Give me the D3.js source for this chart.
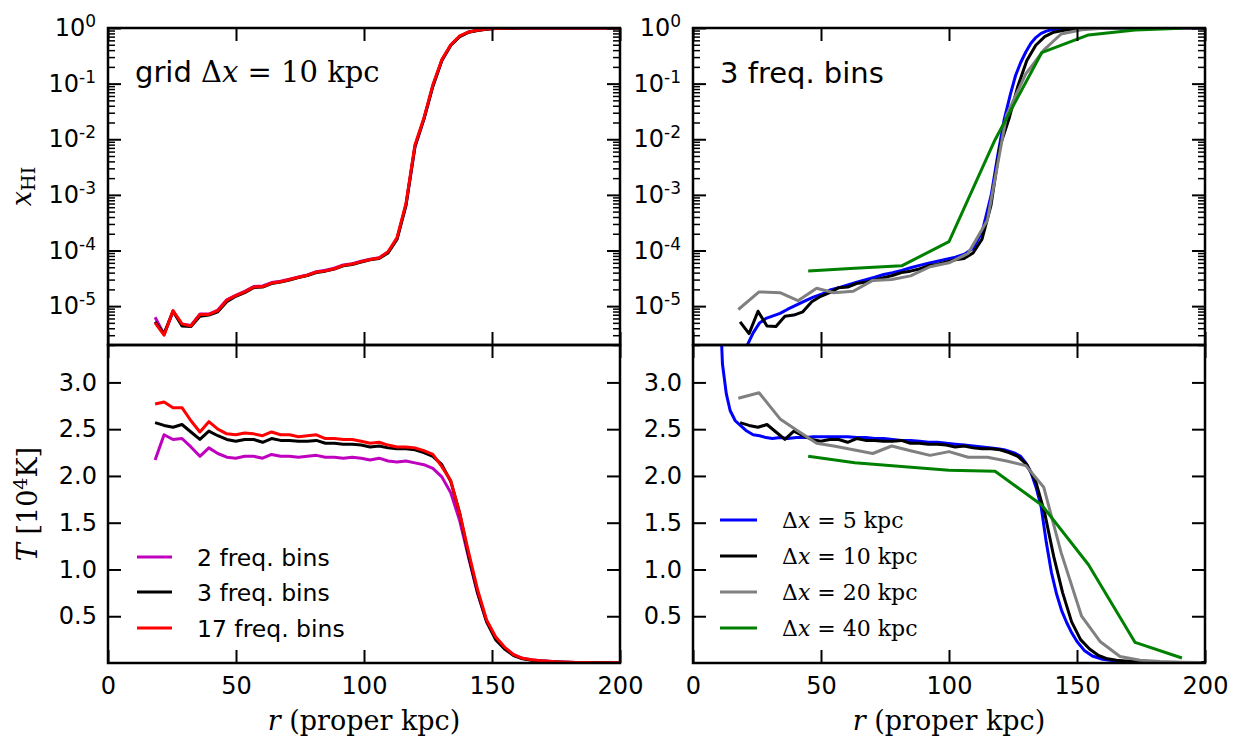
<!DOCTYPE html>
<html><head><meta charset="utf-8">
<script src="https://cdn.jsdelivr.net/npm/d3@7"></script>
<style>body{margin:0;background:#fff} svg{display:block}</style>
</head><body><svg id="c" width="1237" height="739"></svg>
<script>
// ---------- DATA ----------
const rGrid = [18.4, 21.9, 25.4, 28.9, 32.4, 35.9, 39.4, 42.9, 46.4, 49.9, 53.4, 56.9, 60.4, 63.9, 67.4, 70.9, 74.4, 77.9, 81.4, 84.9, 88.4, 91.9, 95.4, 98.9, 102.4, 105.9, 109.4, 112.9, 116.4, 119.9, 123.4, 126.9, 130.4, 133.9, 137.4, 140.9, 144.4, 147.9, 151.4, 154.9, 158.4, 161.9, 165.4, 168.9, 172.4, 175.9, 179.4, 182.9, 186.4, 189.9, 193.4, 196.9, 200.4];

const xhiBins2 = [6.3e-6, 3.1e-6, 8.0e-6, 4.7e-6, 4.5e-6, 7.2e-6, 7.2e-6, 8.5e-6, 1.3e-5, 1.56e-5, 1.85e-5, 2.25e-5, 2.3e-5, 2.65e-5, 2.8e-5, 3.05e-5, 3.35e-5, 3.65e-5, 4.15e-5, 4.4e-5, 4.8e-5, 5.5e-5, 5.8e-5, 6.4e-5, 7.0e-5, 7.4e-5, 9.4e-5, 1.6e-4, 6.6e-4, 7.2e-3, 2.3e-2, 9.0e-2, 0.26, 0.49, 0.71, 0.845, 0.91, 0.955, 0.978, 0.99, 0.995, 0.998, 0.999, 1, 1, 1, 1, 1, 1, 1, 1, 1, 1];
const xhiBins3 = [5.2e-6, 3.2e-6, 8.1e-6, 4.4e-6, 4.3e-6, 6.6e-6, 6.9e-6, 7.9e-6, 1.2e-5, 1.5e-5, 1.75e-5, 2.15e-5, 2.2e-5, 2.55e-5, 2.7e-5, 2.95e-5, 3.25e-5, 3.55e-5, 4.0e-5, 4.25e-5, 4.65e-5, 5.3e-5, 5.6e-5, 6.2e-5, 6.8e-5, 7.2e-5, 9.0e-5, 1.6e-4, 6.5e-4, 7.5e-3, 2.3e-2, 9.0e-2, 0.26, 0.49, 0.70, 0.84, 0.905, 0.95, 0.975, 0.988, 0.994, 0.997, 0.999, 1, 1, 1, 1, 1, 1, 1, 1, 1, 1];
const xhiBins17 = [5.0e-6, 3.0e-6, 8.3e-6, 4.8e-6, 4.4e-6, 7.1e-6, 7.1e-6, 8.3e-6, 1.28e-5, 1.54e-5, 1.8e-5, 2.2e-5, 2.25e-5, 2.6e-5, 2.75e-5, 3.0e-5, 3.3e-5, 3.6e-5, 4.1e-5, 4.3e-5, 4.7e-5, 5.4e-5, 5.7e-5, 6.3e-5, 6.9e-5, 7.3e-5, 9.5e-5, 1.7e-4, 7.0e-4, 7.9e-3, 2.4e-2, 9.5e-2, 0.27, 0.50, 0.72, 0.85, 0.91, 0.955, 0.978, 0.99, 0.995, 0.998, 0.999, 1, 1, 1, 1, 1, 1, 1, 1, 1, 1];

const tBins2 = [2.17, 2.44, 2.39, 2.40, 2.31, 2.21, 2.30, 2.24, 2.20, 2.19, 2.21, 2.21, 2.19, 2.23, 2.21, 2.21, 2.20, 2.21, 2.22, 2.20, 2.20, 2.19, 2.20, 2.19, 2.17, 2.19, 2.16, 2.15, 2.16, 2.14, 2.12, 2.08, 1.99, 1.82, 1.52, 1.12, 0.74, 0.44, 0.27, 0.16, 0.09, 0.05, 0.035, 0.025, 0.018, 0.012, 0.008, 0.006, 0.005, 0.004, 0.003, 0.003, 0.003];
const tBins3 = [2.57, 2.54, 2.52, 2.55, 2.47, 2.39, 2.48, 2.43, 2.39, 2.37, 2.39, 2.39, 2.36, 2.40, 2.38, 2.38, 2.37, 2.37, 2.38, 2.35, 2.35, 2.34, 2.34, 2.33, 2.31, 2.32, 2.30, 2.29, 2.29, 2.28, 2.25, 2.21, 2.12, 1.94, 1.60, 1.14, 0.75, 0.44, 0.25, 0.15, 0.08, 0.045, 0.03, 0.022, 0.016, 0.011, 0.008, 0.006, 0.005, 0.004, 0.003, 0.003, 0.003];
const tBins17 = [2.77, 2.79, 2.73, 2.73, 2.59, 2.47, 2.58, 2.50, 2.45, 2.44, 2.46, 2.45, 2.43, 2.47, 2.44, 2.44, 2.42, 2.43, 2.44, 2.40, 2.40, 2.39, 2.39, 2.37, 2.35, 2.36, 2.33, 2.31, 2.31, 2.30, 2.27, 2.23, 2.10, 1.95, 1.60, 1.18, 0.78, 0.46, 0.28, 0.17, 0.09, 0.05, 0.035, 0.025, 0.018, 0.012, 0.008, 0.006, 0.005, 0.004, 0.003, 0.003, 0.003];

const rDx5 = [8, 10, 11.5, 13, 14.5, 16.5, 18.5, 21, 23.5, 26, 28.5, 31, 34, 37, 40.5, 44, 47, 50.5, 53.5, 57, 60.5, 64, 67.5, 71, 74.5, 78, 81.5, 85, 88.5, 92, 95.5, 99, 102.5, 106, 109.5, 113, 116.5, 119, 121.5, 124, 126, 128, 130, 132, 134, 136, 138, 140, 142, 144, 146, 148, 150, 153, 156, 160, 165, 170, 180, 190, 200];
const xhiDx5 = [3e-8, 8e-8, 1.5e-7, 2.5e-7, 4e-7, 7e-7, 1.2e-6, 1.9e-6, 3.3e-6, 5.0e-6, 6.0e-6, 6.6e-6, 7.4e-6, 8.8e-6, 1.05e-5, 1.25e-5, 1.45e-5, 1.65e-5, 1.95e-5, 2.15e-5, 2.4e-5, 2.7e-5, 3.0e-5, 3.3e-5, 3.7e-5, 4.0e-5, 4.4e-5, 4.9e-5, 5.4e-5, 5.9e-5, 6.4e-5, 7.0e-5, 7.6e-5, 8.6e-5, 1.1e-4, 2.2e-4, 1.0e-3, 5.0e-3, 2.2e-2, 6.5e-2, 0.14, 0.24, 0.37, 0.53, 0.68, 0.80, 0.88, 0.93, 0.96, 0.975, 0.985, 0.99, 0.995, 0.998, 0.999, 1, 1, 1, 1, 1, 1];
const tDx5 = [6.0, 4.2, 3.2, 2.88, 2.70, 2.59, 2.54, 2.48, 2.44, 2.43, 2.41, 2.40, 2.41, 2.40, 2.41, 2.41, 2.42, 2.42, 2.42, 2.42, 2.42, 2.41, 2.41, 2.40, 2.40, 2.39, 2.38, 2.38, 2.37, 2.36, 2.36, 2.35, 2.34, 2.33, 2.32, 2.31, 2.30, 2.29, 2.28, 2.26, 2.24, 2.21, 2.14, 2.04, 1.88, 1.67, 1.29, 0.97, 0.74, 0.56, 0.43, 0.32, 0.23, 0.13, 0.075, 0.04, 0.02, 0.012, 0.006, 0.003, 0.002];

const rDx20 = [17.7, 25.8, 34.0, 41.0, 48.3, 55.0, 62.6, 70.2, 77.6, 85.0, 92.6, 100.0, 107.5, 115.0, 122.5, 130.0, 137.0, 143.8, 151.8, 159.0, 166.8, 174.6, 182.5, 190.5, 198.5];
const xhiDx20 = [8.7e-6, 1.8e-5, 1.74e-5, 1.25e-5, 2.1e-5, 1.74e-5, 1.85e-5, 2.9e-5, 3.0e-5, 3.5e-5, 5.1e-5, 6.0e-5, 8.9e-5, 3.5e-4, 2.7e-2, 0.15, 0.40, 0.78, 0.93, 0.98, 0.995, 0.999, 1, 1, 1];
const tDx20 = [2.83, 2.89, 2.61, 2.48, 2.35, 2.32, 2.28, 2.24, 2.32, 2.27, 2.22, 2.26, 2.20, 2.20, 2.16, 2.11, 1.88, 1.18, 0.50, 0.23, 0.07, 0.03, 0.015, 0.008, 0.005];

const rDx40 = [45.0, 63.2, 81.5, 100.0, 118.0, 136.2, 154.5, 172.7, 191.0];
const xhiDx40 = [4.3e-5, 4.8e-5, 5.3e-5, 1.44e-4, 9.8e-3, 0.36, 0.75, 0.92, 0.99];
const tDx40 = [2.21, 2.14, 2.10, 2.06, 2.05, 1.69, 1.05, 0.22, 0.053];

const xTicks = [0, 50, 100, 150, 200];
const logMajorTicks = [1e-5, 1e-4, 1e-3, 1e-2, 1e-1, 1];
const tTicks = [0.5, 1.0, 1.5, 2.0, 2.5, 3.0];
const leftLegendLabels = ['2 freq. bins', '3 freq. bins', '17 freq. bins'];
const rightLegendDx = ['5', '10', '20', '40'];

// ---------- LAYOUT ----------
const svg = d3.select('#c');
const cols = [{x0:108, x1:620}, {x0:693, x1:1205}];
const rows = [{y0:28, y1:345}, {y0:345, y1:663}];
const SANS = 'DejaVu Sans', SERIF = 'DejaVu Serif';
const TICKFS = 24;

const xScales = cols.map(c => d3.scaleLinear([0, 200], [c.x0, c.x1]));
const yLog = d3.scaleLog([2e-6, 1], [rows[0].y1, rows[0].y0]);
const yLin = d3.scaleLinear([0, 3.4], [rows[1].y1, rows[1].y0]);

const minorLog = [];
for (let e = -6; e <= -1; e++) for (let m = 2; m <= 9; m++) { const v = m * Math.pow(10, e); if (v >= 2e-6 && v < 1) minorLog.push(v); }

const defs = svg.append('defs');
let clipId = 0;

function styleAxis(g, w) {
  g.select('.domain').remove();
  g.selectAll('.tick line').attr('stroke', '#000').attr('stroke-width', w);
  g.selectAll('.tick text').attr('fill', '#000').attr('font-family', SANS).attr('font-size', TICKFS);
}

function panel(ci, ri, series) {
  const c = cols[ci], r = rows[ri];
  const x = xScales[ci];
  const y = ri === 0 ? yLog : yLin;
  const id = 'clip' + (clipId++);
  defs.append('clipPath').attr('id', id).append('rect')
    .attr('x', c.x0).attr('y', r.y0).attr('width', c.x1 - c.x0).attr('height', r.y1 - r.y0);
  const g = svg.append('g');
  const lg = g.append('g').attr('clip-path', `url(#${id})`);
  series.forEach(s => {
    const pts = s.r.map((rv, i) => [rv, s.v[i]]);
    lg.append('path').datum(pts)
      .attr('fill', 'none').attr('stroke', s.color).attr('stroke-width', 3)
      .attr('stroke-linejoin', 'round')
      .attr('d', d3.line().x(d => x(d[0])).y(d => y(d[1])));
  });
  // x axes
  const gb = g.append('g').attr('transform', `translate(0,${r.y1})`)
    .call(d3.axisBottom(x).tickValues(xTicks).tickSize(-13).tickSizeOuter(0).tickPadding(14)
      .tickFormat(ri === 1 ? d3.format('d') : () => ''));
  styleAxis(gb, 2);
  const gt = g.append('g').attr('transform', `translate(0,${r.y0})`)
    .call(d3.axisTop(x).tickValues(xTicks).tickSize(-13).tickSizeOuter(0).tickFormat(() => ''));
  styleAxis(gt, 2);
  // y axes
  if (ri === 0) {
    const gl = g.append('g').attr('transform', `translate(${c.x0},0)`)
      .call(d3.axisLeft(y).tickValues(logMajorTicks).tickSize(-13).tickSizeOuter(0).tickPadding(12).tickFormat(() => ''));
    styleAxis(gl, 2);
    gl.selectAll('.tick text').each(function(d) {
      const t = d3.select(this);
      t.append('tspan').text('10');
      t.append('tspan').attr('dy', -9).attr('font-size', 17).text(String(Math.round(Math.log10(d))));
    });
    const glm = g.append('g').attr('transform', `translate(${c.x0},0)`)
      .call(d3.axisLeft(y).tickValues(minorLog).tickSize(-7).tickSizeOuter(0).tickFormat(() => ''));
    styleAxis(glm, 1.5);
    const gr = g.append('g').attr('transform', `translate(${c.x1},0)`)
      .call(d3.axisRight(y).tickValues(logMajorTicks).tickSize(-13).tickSizeOuter(0).tickFormat(() => ''));
    styleAxis(gr, 2);
    const grm = g.append('g').attr('transform', `translate(${c.x1},0)`)
      .call(d3.axisRight(y).tickValues(minorLog).tickSize(-7).tickSizeOuter(0).tickFormat(() => ''));
    styleAxis(grm, 1.5);
  } else {
    const gl = g.append('g').attr('transform', `translate(${c.x0},0)`)
      .call(d3.axisLeft(y).tickValues(tTicks).tickSize(-13).tickSizeOuter(0).tickPadding(11).tickFormat(d3.format('.1f')));
    styleAxis(gl, 2);
    const gr = g.append('g').attr('transform', `translate(${c.x1},0)`)
      .call(d3.axisRight(y).tickValues(tTicks).tickSize(-13).tickSizeOuter(0).tickFormat(() => ''));
    styleAxis(gr, 2);
  }
  // spines
  g.append('rect').attr('x', c.x0).attr('y', r.y0).attr('width', c.x1 - c.x0).attr('height', r.y1 - r.y0)
    .attr('fill', 'none').attr('stroke', '#000').attr('stroke-width', 2.5);
}

const mk = (r, v, color) => ({r, v, color});
panel(0, 0, [mk(rGrid, xhiBins2, '#bf00bf'), mk(rGrid, xhiBins3, '#000'), mk(rGrid, xhiBins17, '#ff0000')]);
panel(1, 0, [mk(rDx5, xhiDx5, '#0000ff'), mk(rGrid, xhiBins3, '#000'), mk(rDx20, xhiDx20, '#808080'), mk(rDx40, xhiDx40, '#008000')]);
panel(0, 1, [mk(rGrid, tBins2, '#bf00bf'), mk(rGrid, tBins3, '#000'), mk(rGrid, tBins17, '#ff0000')]);
panel(1, 1, [mk(rDx5, tDx5, '#0000ff'), mk(rGrid, tBins3, '#000'), mk(rDx20, tDx20, '#808080'), mk(rDx40, tDx40, '#008000')]);

// ---------- TEXT ----------
// panel titles
const t1 = svg.append('text').attr('x', 135).attr('y', 82).attr('font-size', 29).attr('fill', '#000');
t1.append('tspan').attr('font-family', SANS).text('grid ');
t1.append('tspan').attr('font-family', SERIF).text('Δ');
t1.append('tspan').attr('font-family', SERIF).attr('font-style', 'italic').text('x');
t1.append('tspan').attr('font-family', SERIF).text(' = 10 kpc');
svg.append('text').attr('x', 720).attr('y', 83).attr('font-size', 29).attr('font-family', SANS).text('3 freq. bins');

// axis labels
[0, 1].forEach(ci => {
  const cx = (cols[ci].x0 + cols[ci].x1) / 2;
  const t = svg.append('text').attr('x', cx).attr('y', 730).attr('text-anchor', 'middle')
    .attr('font-family', SERIF).attr('font-size', 27);
  t.append('tspan').attr('font-style', 'italic').text('r');
  t.append('tspan').text(' (proper kpc)');
});
const yl1 = svg.append('text').attr('transform', `translate(31,${(rows[0].y0 + rows[0].y1) / 2}) rotate(-90)`)
  .attr('text-anchor', 'middle').attr('font-family', SERIF).attr('font-size', 27);
yl1.append('tspan').attr('font-style', 'italic').text('x');
yl1.append('tspan').attr('font-size', 19).attr('dy', 4).text('HI');
const yl2 = svg.append('text').attr('transform', `translate(37,${(rows[1].y0 + rows[1].y1) / 2}) rotate(-90)`)
  .attr('text-anchor', 'middle').attr('font-family', SERIF).attr('font-size', 27);
yl2.append('tspan').attr('font-style', 'italic').text('T');
yl2.append('tspan').text(' [10');
yl2.append('tspan').attr('font-size', 19).attr('dy', -10).text('4');
yl2.append('tspan').attr('dy', 10).text('K]');

// legends
const legL = [['#bf00bf', 557], ['#000', 592], ['#ff0000', 628]];
legL.forEach((d, i) => {
  svg.append('line').attr('x1', 137).attr('x2', 172).attr('y1', d[1]).attr('y2', d[1]).attr('stroke', d[0]).attr('stroke-width', 3);
  svg.append('text').attr('x', 197).attr('y', d[1] + 9).attr('font-family', SANS).attr('font-size', 23.5).text(leftLegendLabels[i]);
});
const legR = [['#0000ff', 520], ['#000', 556], ['#808080', 592], ['#008000', 628]];
legR.forEach((d, i) => {
  svg.append('line').attr('x1', 720).attr('x2', 757).attr('y1', d[1]).attr('y2', d[1]).attr('stroke', d[0]).attr('stroke-width', 3);
  const t = svg.append('text').attr('x', 782).attr('y', d[1] + 8).attr('font-family', SERIF).attr('font-size', 22);
  t.append('tspan').text('Δ');
  t.append('tspan').attr('font-style', 'italic').text('x');
  t.append('tspan').text(' = ' + rightLegendDx[i] + ' kpc');
});
</script>
</body></html>
